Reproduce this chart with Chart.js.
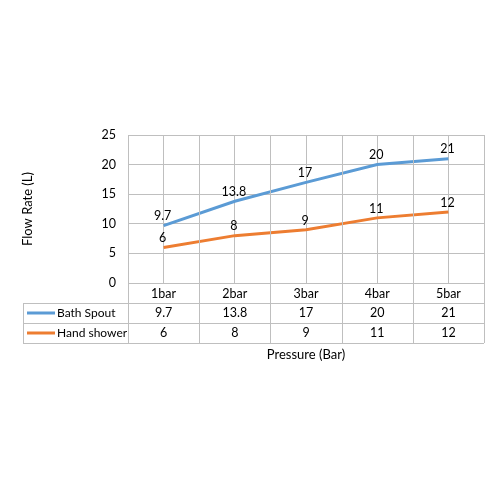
<!DOCTYPE html>
<html>
<head>
<meta charset="utf-8">
<script src="https://cdn.jsdelivr.net/npm/chart.js@4/dist/chart.umd.min.js"></script>
<style>
  html, body { margin: 0; padding: 0; background: #fff; }
  #wrap { width: 500px; height: 500px; }
</style>
</head>
<body>
<div id="wrap"><canvas id="chart"></canvas></div>
<script>
// chart data
const categories = ['1bar', '2bar', '3bar', '4bar', '5bar'];
const seriesNames = ['Bath Spout', 'Hand shower'];
const bathSpout = [9.7, 13.8, 17, 20, 21];
const handShower = [6, 8, 9, 11, 12];
const seriesColors = ['#5B9BD5', '#ED7D31'];

const FONT = 'Lato, "Open Sans", sans-serif';
const FONT_SIZE = 12.5;
const GRID = '#bfbfbf';
const ROW_H = 20;
const TABLE_LEFT = 23;

// value labels above each point
const pointLabels = {
    id: 'pointLabels',
    afterDatasetsDraw(chart) {
        const ctx = chart.ctx;
        ctx.save();
        ctx.font = FONT_SIZE + 'px ' + FONT;
        ctx.fillStyle = '#000';
        ctx.textAlign = 'center';
        ctx.textBaseline = 'bottom';
        chart.data.datasets.forEach(function(ds, i) {
            chart.getDatasetMeta(i).data.forEach(function(pt, j) {
                ctx.fillText(String(ds.data[j]), pt.x - 1, pt.y - 3);
            });
        });
        ctx.restore();
    }
};

// data table under the plot
const dataTable = {
    id: 'dataTable',
    afterDraw(chart) {
        const ctx = chart.ctx;
        const area = chart.chartArea;
        const x = chart.scales.x;
        const step = x.getPixelForValue(1) - x.getPixelForValue(0);
        const labelBottom = area.bottom + ROW_H;
        const tableBottom = labelBottom + ROW_H * chart.data.datasets.length;

        ctx.save();
        ctx.strokeStyle = GRID;
        ctx.lineWidth = 1;
        ctx.beginPath();
        // vertical lines at category boundaries
        for (let i = 0; i <= categories.length; i++) {
            const bx = Math.round(x.getPixelForValue(i) - step / 2) + 0.5;
            ctx.moveTo(bx, area.top);
            ctx.lineTo(bx, tableBottom);
        }
        ctx.moveTo(TABLE_LEFT + 0.5, labelBottom);
        ctx.lineTo(TABLE_LEFT + 0.5, tableBottom);
        // horizontal row lines
        for (let r = 0; r <= chart.data.datasets.length; r++) {
            const y = labelBottom + r * ROW_H + 0.5;
            ctx.moveTo(TABLE_LEFT, y);
            ctx.lineTo(area.right, y);
        }
        ctx.stroke();

        ctx.font = '12px ' + FONT;
        ctx.textBaseline = 'middle';
        chart.data.datasets.forEach(function(ds, i) {
            const cy = labelBottom + i * ROW_H + ROW_H / 2;
            // legend key
            ctx.strokeStyle = ds.borderColor;
            ctx.lineWidth = 3;
            ctx.beginPath();
            ctx.moveTo(TABLE_LEFT + 4, cy);
            ctx.lineTo(TABLE_LEFT + 32, cy);
            ctx.stroke();
            ctx.fillStyle = '#000';
            ctx.textAlign = 'left';
            ctx.fillText(ds.label, TABLE_LEFT + 34, cy);
            ctx.textAlign = 'center';
            ctx.font = FONT_SIZE + 'px ' + FONT;
            ds.data.forEach(function(v, j) {
                ctx.fillText(String(v), x.getPixelForValue(j), cy);
            });
            ctx.font = '12px ' + FONT;
        });

        // x axis title
        ctx.font = '13px ' + FONT;
        ctx.textAlign = 'center';
        ctx.fillText('Pressure (Bar)', (area.left + area.right) / 2, tableBottom + 12);
        ctx.restore();
    }
};

new Chart(document.getElementById('chart'), {
    type: 'line',
    data: {
        labels: categories,
        datasets: [
            { label: seriesNames[0], data: bathSpout },
            { label: seriesNames[1], data: handShower }
        ].map(function(ds, i) {
            return Object.assign(ds, {
                borderColor: seriesColors[i],
                backgroundColor: seriesColors[i],
                borderWidth: 3,
                pointRadius: 0,
                pointHoverRadius: 0,
                tension: 0
            });
        })
    },
    options: {
        responsive: true,
        maintainAspectRatio: false,
        animation: false,
        events: [],
        layout: { padding: { left: 18, right: 16, top: 135, bottom: 197 } },
        plugins: {
            legend: { display: false },
            tooltip: { enabled: false }
        },
        scales: {
            x: {
                offset: true,
                border: { display: false },
                grid: { color: GRID, offset: false, drawTicks: false },
                ticks: { color: '#000', font: { family: FONT, size: FONT_SIZE }, padding: 3 },
                afterFit: function(scale) { scale.height = ROW_H; }
            },
            y: {
                min: 0,
                max: 25,
                border: { display: false },
                grid: { color: GRID, drawTicks: false },
                ticks: { stepSize: 5, color: '#000', font: { family: FONT, size: FONT_SIZE }, padding: 12 },
                title: { display: true, text: 'Flow Rate (L)', color: '#000', font: { family: FONT, size: 13 }, padding: { top: 2 } },
                afterFit: function(scale) { scale.width = 110; }
            }
        }
    },
    plugins: [pointLabels, dataTable]
});
</script>
</body>
</html>
